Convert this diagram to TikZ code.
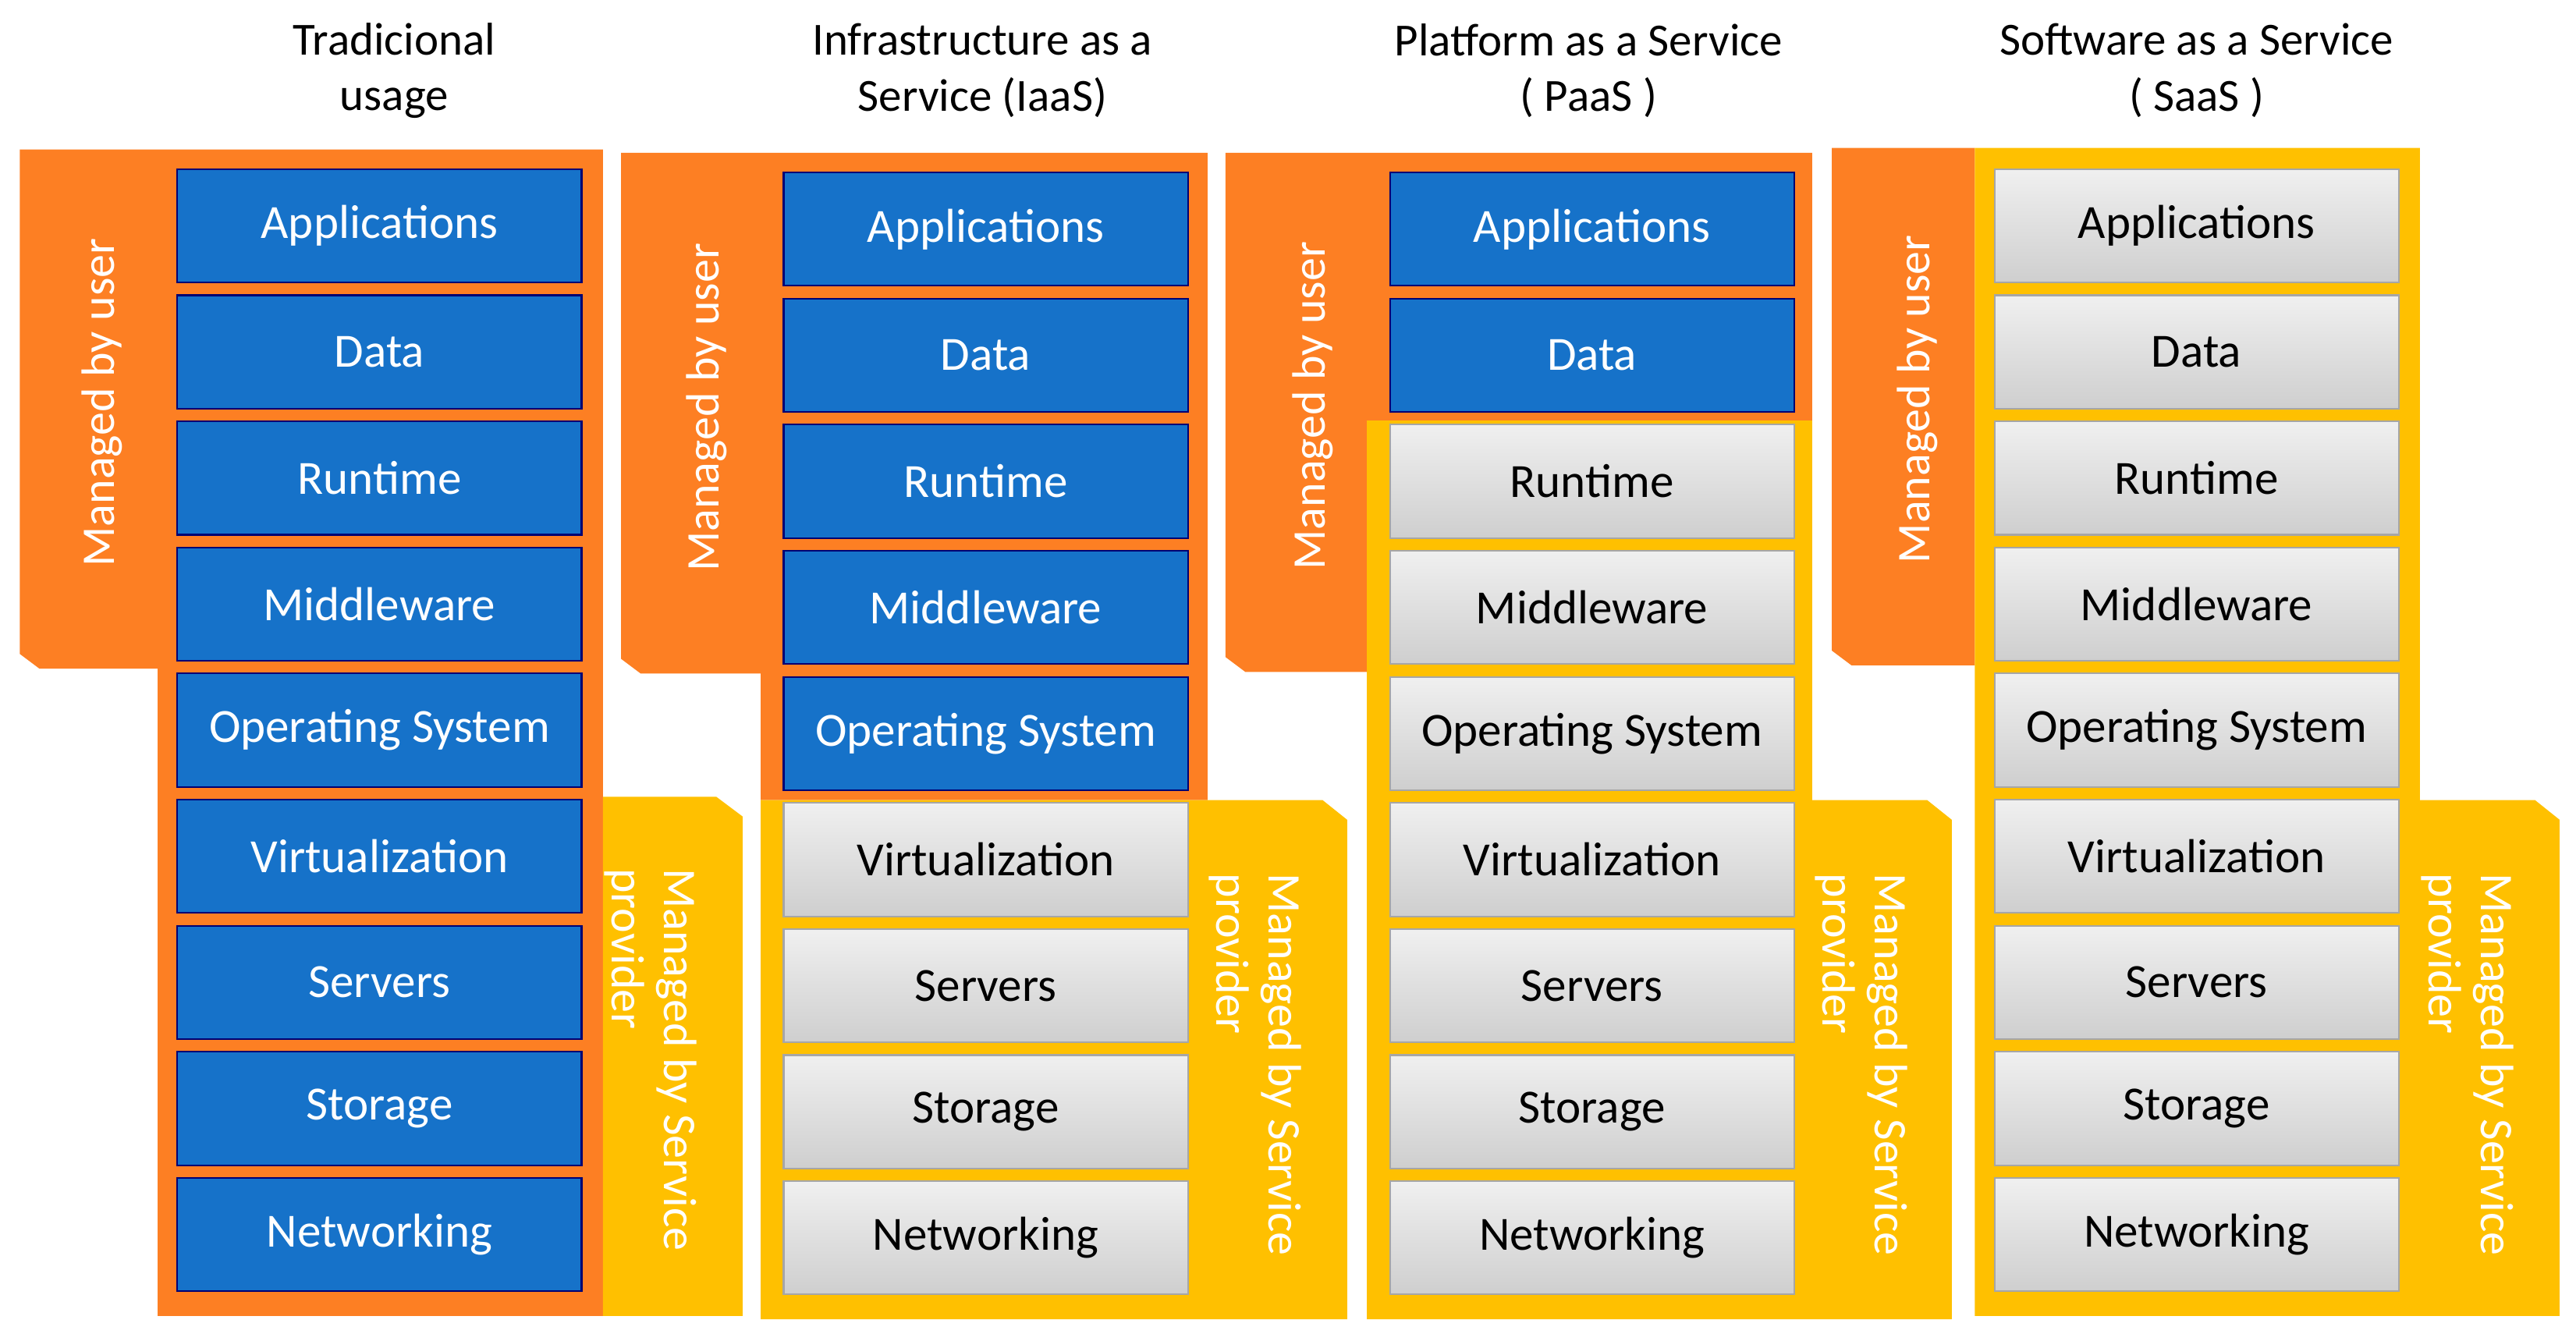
\documentclass[tikz,border=0pt]{standalone}
\usepackage{fontspec}
\setmainfont{Carlito}
\definecolor{org}{HTML}{FD7F23}
\definecolor{yel}{HTML}{FFC000}
\definecolor{blu}{HTML}{1672C9}
\begin{document}
\begin{tikzpicture}[x=1pt,y=-1pt,
  bbox/.style={draw=blue!45!black,line width=1pt,fill=blu,text=white,minimum width=246pt,minimum height=69pt,inner sep=0pt,font=\fontsize{29}{33}\selectfont},
  gbox/.style={draw=gray!70,line width=1pt,top color=gray!12,bottom color=gray!38,text=black,minimum width=246pt,minimum height=69pt,inner sep=0pt,font=\fontsize{29}{33}\selectfont},
  side/.style={text=white,font=\fontsize{28.5}{32}\selectfont,align=left,inner sep=0pt},
  ttl/.style={align=center,font=\fontsize{28}{34}\selectfont,inner sep=0pt}]
\useasboundingbox (0,0) rectangle (1568,816);
% column 1
\fill[org] (12,91) -- (367,91) -- (367,801) -- (96,801) -- (96,407) -- (24,407) -- (12,398) -- cycle;
\fill[yel] (367,485) -- (436,485) -- (452,497) -- (452,801) -- (367,801) -- cycle;
% column 2
\fill[org] (378,93) -- (735,93) -- (735,487) -- (463,487) -- (463,410) -- (390,410) -- (378,401) -- cycle;
\fill[yel] (463,487) -- (805,487) -- (820,499) -- (820,803) -- (463,803) -- cycle;
% column 3
\fill[org] (746,93) -- (1103,93) -- (1103,256) -- (832,256) -- (832,409) -- (758,409) -- (746,400) -- cycle;
\fill[yel] (832,256) -- (1103,256) -- (1103,487) -- (1173,487) -- (1188,499) -- (1188,803) -- (832,803) -- cycle;
% column 4
\fill[org] (1115,90) -- (1202,90) -- (1202,405) -- (1127,405) -- (1115,396) -- cycle;
\fill[yel] (1202,90) -- (1473,90) -- (1473,487) -- (1543,487) -- (1558,499) -- (1558,801) -- (1202,801) -- cycle;
% boxes
\foreach \c/\L/\T/\nb in {1/108/103/9,2/477/105/5,3/846/105/2,4/1214/103/0}{
  \foreach \lab [count=\i] in {Applications,Data,Runtime,Middleware,Operating System,Virtualization,Servers,Storage,Networking}{
    \ifnum\i>\nb\relax
      \node[gbox] (c\c b\i) at ({\L+123},{\T+34.5+(\i-1)*76.75}) {\lab};
    \else
      \node[bbox] (c\c b\i) at ({\L+123},{\T+34.5+(\i-1)*76.75}) {\lab};
    \fi
  }
}
% side labels
\node[side,rotate=90] (u1) at (62,245) {Managed by user};
\node[side,rotate=90] (u2) at (430,248) {Managed by user};
\node[side,rotate=90] (u3) at (799,247) {Managed by user};
\node[side,rotate=90] (u4) at (1167,243) {Managed by user};
\node[side,rotate=-90] (p1) at (396,645) {Managed by Service\\provider};
\node[side,rotate=-90] (p2) at (764,648) {Managed by Service\\provider};
\node[side,rotate=-90] (p3) at (1133,648) {Managed by Service\\provider};
\node[side,rotate=-90] (p4) at (1502,648) {Managed by Service\\provider};
% titles
\node[ttl] (t1) at (240,43) {Tradicional\\usage};
\node[ttl] (t2) at (598,43) {Infrastructure as a\\Service (IaaS)};
\node[ttl] (t3) at (967,43) {Platform as a Service\\( PaaS )};
\node[ttl] (t4) at (1337,43) {Software as a Service\\( SaaS )};
\end{tikzpicture}
\end{document}
